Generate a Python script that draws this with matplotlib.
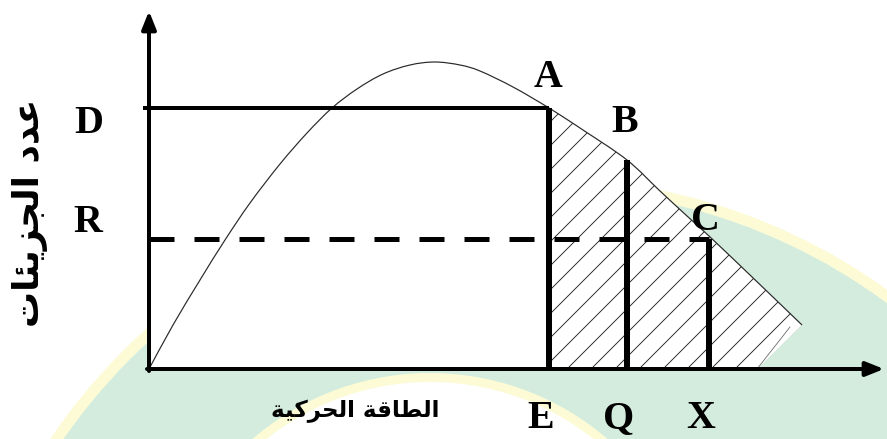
import matplotlib
matplotlib.use("Agg")
import matplotlib.pyplot as plt
from matplotlib.patches import Circle, PathPatch
from matplotlib.path import Path
import numpy as np

# Distribution curve: kinetic energy vs. number of molecules (diagram units)
energy = [0, 24, 51, 76, 101, 131, 158, 183, 208, 234, 261, 286, 311, 331,
          364, 400, 434, 478, 511, 538, 560, 601, 653]
count = [0, 44, 89, 129, 166, 205, 236, 261, 280, 295, 304, 307, 304, 298,
         282, 261, 239, 209, 178, 153, 133, 94, 44]

# Marked energies and levels
x_marks = ["E", "Q", "X"]
x_pos = [400, 478, 560]
level_D = 261
level_R = 130
level_B = 209
hatch_tail = 608  # where the shaded tail closes on the energy axis

# Arabic labels, written in presentation forms (visual order) so they render joined
ylabel_logical = "\uFECB\uFEAA\uFEA9 \uFE8D\uFEDF\uFEA0\uFEB0\uFEF3\uFE8C\uFE8E\uFE95"   # عدد الجزيئات
xlabel_logical = "\uFE8D\uFEDF\uFEC4\uFE8E\uFED7\uFE94 \uFE8D\uFEDF\uFEA4\uFEAE\uFEDB\uFEF4\uFE94"  # الطاقة الحركية
ylabel = ylabel_logical[::-1]
xlabel = xlabel_logical[::-1]


def smooth_path(xs, ys):
    """Cubic Bezier segments (Catmull-Rom tangents) through the given knots."""
    p = np.column_stack([xs, ys]).astype(float)
    n = len(p)
    verts = [p[0]]
    codes = [Path.MOVETO]
    for i in range(n - 1):
        p0 = p[i - 1] if i > 0 else p[i]
        p3 = p[i + 2] if i + 2 < n else p[i + 1]
        c1 = p[i] + (p[i + 1] - p0) / 6.0
        c2 = p[i + 1] - (p3 - p[i]) / 6.0
        verts += [c1, c2, p[i + 1]]
        codes += [Path.CURVE4] * 3
    return verts, codes


W, H, DPI = 887, 439, 72
fig = plt.figure(figsize=(W / DPI, H / DPI), dpi=DPI)
ax = fig.add_axes([0, 0, 1, 1])
ax.set_xlim(-149, 738)
ax.set_ylim(-70, 369)
ax.axis("off")
plt.rcParams["hatch.linewidth"] = 0.9

# faint emblem in the background
ax.add_patch(Circle((392, -401), 592, facecolor="#fcfbd6", edgecolor="none", zorder=0))
ax.add_patch(Circle((392, -401), 581, facecolor="#d4ecde", edgecolor="none", zorder=0))
ax.add_patch(Circle((281, -276), 272, facecolor="#fcfbd6", edgecolor="none", zorder=0))
ax.add_patch(Circle((281, -276), 263, facecolor="#ffffff", edgecolor="none", zorder=0))

e = np.array(energy, dtype=float)
c = np.array(count, dtype=float)

# white panel of the diagram (area under the curve and the D-A-E box)
v_all, k_all = smooth_path(e, c)
panel = Path(v_all + [(hatch_tail, 0), (0, 0), (0, 0)],
             k_all + [Path.LINETO, Path.LINETO, Path.CLOSEPOLY])
ax.add_patch(PathPatch(panel, facecolor="white", edgecolor="none", zorder=1))
ax.fill_between([0, x_pos[0]], 0, level_D, facecolor="white", edgecolor="none", zorder=1)

# shaded tail beyond E
i0 = energy.index(x_pos[0])
v_t, k_t = smooth_path(e[i0:], c[i0:])
tail = Path(v_t + [(hatch_tail, 0), (x_pos[0], 0), (x_pos[0], 0)],
            k_t + [Path.LINETO, Path.LINETO, Path.CLOSEPOLY])
ax.add_patch(PathPatch(tail, facecolor="none", edgecolor="#222222",
                       linewidth=0, hatch="/", zorder=2))
ax.plot([e[-1] - 12, hatch_tail], [c[-1] - 2, 0], color="#666666", lw=0.8, zorder=2)

# curve
ax.add_patch(PathPatch(Path(v_all, k_all), facecolor="none", edgecolor="#2a2a2a",
                       lw=1.2, zorder=3))

# levels and verticals
ax.plot([-6, x_pos[0]], [level_D, level_D], color="black", lw=4, zorder=4,
        solid_capstyle="butt")
ax.plot([0, x_pos[2]], [level_R, level_R], color="black", lw=5, zorder=4,
        linestyle=(0, (5, 4)), dash_capstyle="butt")
ax.plot([x_pos[0], x_pos[0]], [0, level_D], color="black", lw=6, zorder=5,
        solid_capstyle="butt")
ax.plot([x_pos[1], x_pos[1]], [0, level_B], color="black", lw=6, zorder=5,
        solid_capstyle="butt")
ax.plot([x_pos[2], x_pos[2]], [0, level_R], color="black", lw=6, zorder=5,
        solid_capstyle="butt")

# axes with arrow heads
arrow = dict(arrowstyle="-|>,head_length=0.75,head_width=0.3", lw=4, color="black",
             shrinkA=0, shrinkB=0, mutation_scale=20)
ax.annotate("", xy=(0, 358), xytext=(0, -2), arrowprops=arrow, zorder=6)
ax.annotate("", xy=(735, 0), xytext=(-2, 0), arrowprops=arrow, zorder=6)

# point labels
serif = dict(family="Liberation Serif", fontsize=40, fontweight="bold", color="black",
             ha="center", va="baseline", zorder=7)
ax.text(-60, 236, "D", **serif)
ax.text(-61, 137, "R", **serif)
ax.text(399, 282, "A", **serif)
ax.text(476, 237, "B", **serif)
ax.text(556, 139, "C", **serif)
for name, xp in zip(x_marks, x_pos):
    ax.text(xp - 8, -59, name, **serif)

# axis titles
ax.text(206, -42, xlabel, family="DejaVu Sans", fontsize=23, fontweight="bold",
        ha="center", va="center", zorder=7)
ax.text(-119, 156, ylabel, family="DejaVu Sans", fontsize=36, fontweight="bold",
        rotation=90, ha="center", va="center", zorder=7)

fig.savefig("out.png", dpi=DPI)
